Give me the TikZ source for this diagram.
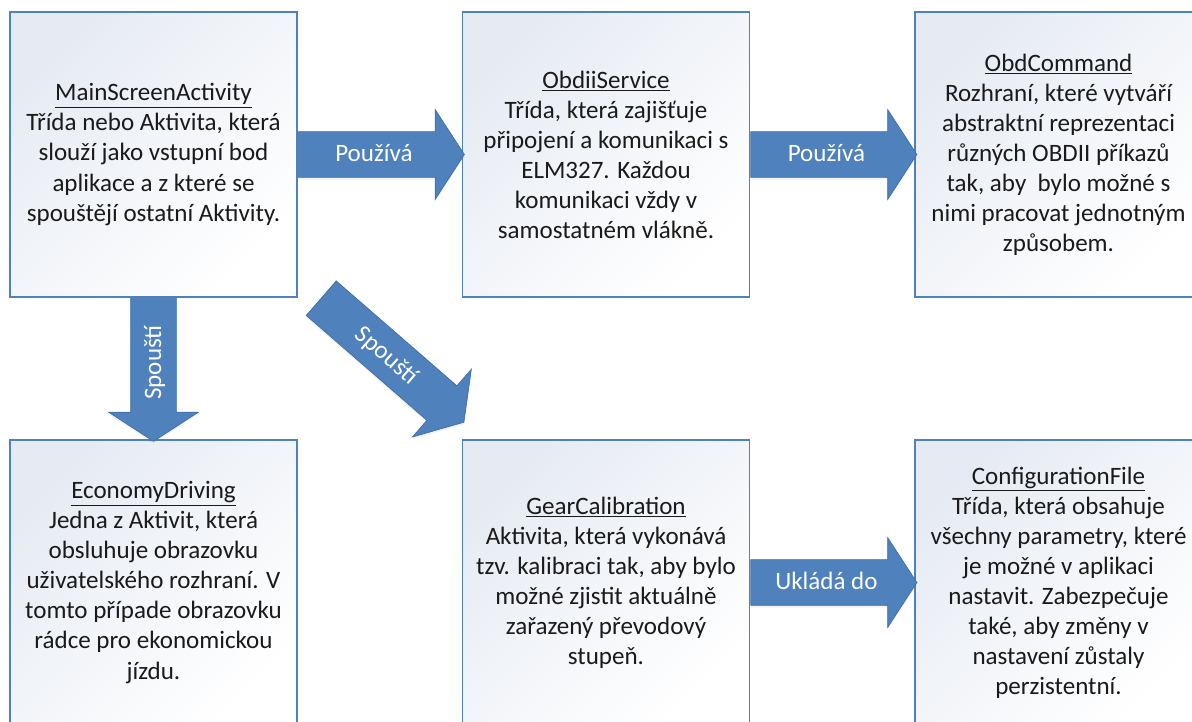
\documentclass[tikz,border=0pt]{standalone}
\usepackage{fontspec}
\setmainfont{Carlito}
\usepackage{xcolor}
\usetikzlibrary{shapes.arrows,calc,shadows}
\definecolor{ink}{HTML}{1A1A1A}
\definecolor{frame}{HTML}{4F81BD}
\definecolor{tint}{HTML}{E6EBF3}
\definecolor{flow}{HTML}{4F81BD}
\definecolor{flowline}{HTML}{3F6FA5}

\begin{document}
\begin{tikzpicture}[
  font=\fontsize{17.8pt}{21.35pt}\selectfont,
  card/.style={draw=frame,line width=1.4pt,top color=tint,bottom color=white,
               shading angle=45,minimum width=7.175cm,minimum height=7.125cm,
               align=center,text=ink,inner sep=0pt},
  flowarrow/.style={single arrow,draw=flowline,fill=flow,line width=0.5pt,
               single arrow head extend=0.55cm,single arrow tip angle=114,
               inner xsep=0pt,inner ysep=0pt,text height=0.75cm,text depth=0.375cm,
               text=white,anchor=tail,
               drop shadow={opacity=0.1,shadow xshift=0pt,shadow yshift=-0.06cm}}
]
\useasboundingbox (0,0) rectangle (29.8,18.05);
\clip (0,0) rectangle (29.8,18.05);

% Top row
\node[card] (main) at (3.8375,14.1875)
  {\underline{MainScreenActivity}\\Třída nebo Aktivita, která\\slouží jako vstupní bod\\
   aplikace a z které se\\spouštějí ostatní Aktivity.};
\node[card] (service) at (15.15,14.1875)
  {\underline{ObdiiService}\\Třída, která zajišťuje\\připojení a komunikaci s\\
   ELM327. Každou\\komunikaci vždy v\\samostatném vlákně.};
\node[card] (command) at (26.4625,14.1875)
  {\underline{ObdCommand}\\Rozhraní, které vytváří\\abstraktní reprezentaci\\
   různých OBDII příkazů\\tak, aby\ \ bylo možné s\\nimi pracovat jednotným\\způsobem.};

% Bottom row
\node[card] (economy) at (3.8375,3.4875)
  {\underline{EconomyDriving}\\Jedna z Aktivit, která\\obsluhuje obrazovku\\
   uživatelského rozhraní. V\\tomto případe obrazovku\\rádce pro ekonomickou\\jízdu.};
\node[card] (gear) at (15.15,3.4875)
  {\underline{GearCalibration}\\Aktivita, která vykonává\\tzv. kalibraci tak, aby bylo\\
   možné zjistit aktuálně\\zařazený převodový\\stupeň.};
\node[card] (config) at (26.4625,3.4875)
  {\underline{ConfigurationFile}\\Třída, která obsahuje\\všechny parametry, které\\
   je možné v aplikaci\\nastavit. Zabezpečuje\\také, aby změny v\\nastavení zůstaly\\perzistentní.};

% Block arrows, tail on the source card
\node[flowarrow,minimum height=4.15cm] (uses1) at (main.east) {Používá};
\node[flowarrow,minimum height=4.15cm] (uses2) at (service.east) {Používá};
\node[flowarrow,minimum height=4.15cm] (stores) at (gear.east) {Ukládá do};
\node[flowarrow,minimum height=3.575cm,rotate=90,shape border rotate=180] (starts1)
  at (main.south) {Spouští};
\node[flowarrow,minimum height=4.725cm,rotate=-41] (starts2)
  at ($(main.south east)+(0.575,0)$) {Spouští};

\end{tikzpicture}
\end{document}
